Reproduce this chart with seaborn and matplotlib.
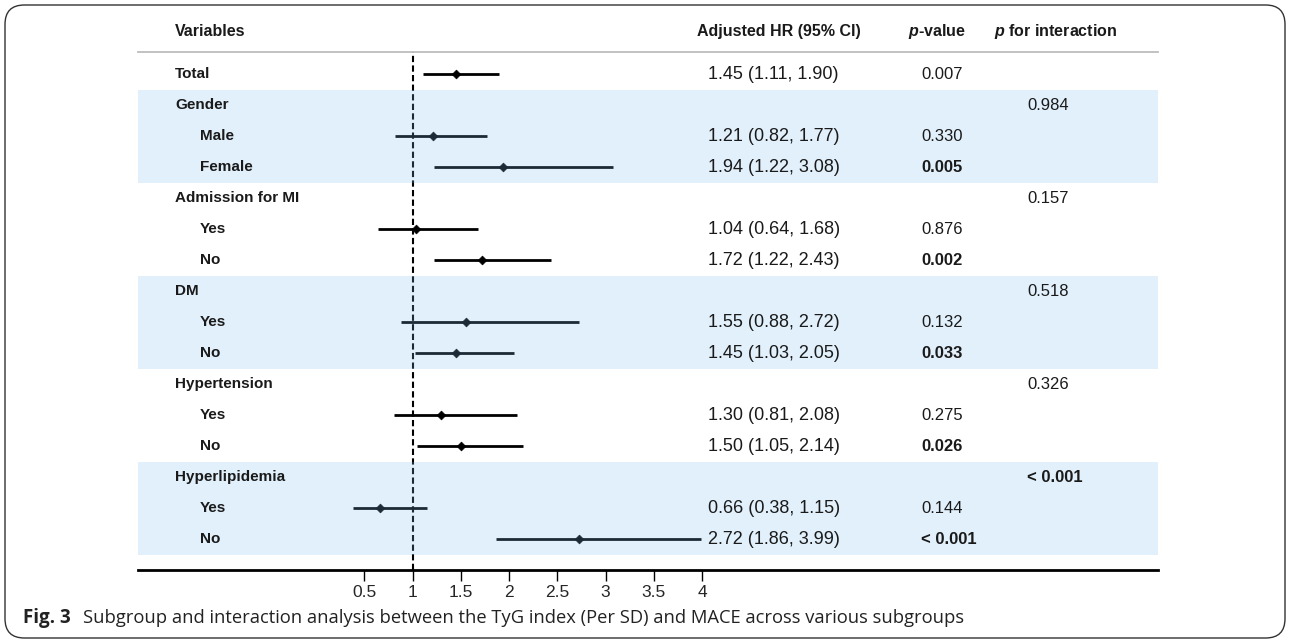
import numpy as np
import pandas as pd
import matplotlib
matplotlib.use("Agg")
import matplotlib.pyplot as plt
import matplotlib.transforms as mtransforms
from matplotlib.patches import FancyBboxPatch
import seaborn as sns

# ---- data ----
labels = ["Total", "Gender", "Male", "Female", "Admission for MI", "Yes", "No",
          "DM", "Yes", "No", "Hypertension", "Yes", "No", "Hyperlipidemia", "Yes", "No"]
is_sub = [False, False, True, True, False, True, True,
          False, True, True, False, True, True, False, True, True]
hr = [1.45, np.nan, 1.21, 1.94, np.nan, 1.04, 1.72, np.nan, 1.55, 1.45,
      np.nan, 1.30, 1.50, np.nan, 0.66, 2.72]
ci_low = [1.11, np.nan, 0.82, 1.22, np.nan, 0.64, 1.22, np.nan, 0.88, 1.03,
          np.nan, 0.81, 1.05, np.nan, 0.38, 1.86]
ci_high = [1.90, np.nan, 1.77, 3.08, np.nan, 1.68, 2.43, np.nan, 2.72, 2.05,
           np.nan, 2.08, 2.14, np.nan, 1.15, 3.99]
p_values = ["0.007", "", "0.330", "0.005", "", "0.876", "0.002", "", "0.132", "0.033",
            "", "0.275", "0.026", "", "0.144", "< 0.001"]
p_bold = [False, False, False, True, False, False, True, False, False, True,
          False, False, True, False, False, True]
p_interaction = ["", "0.984", "", "", "0.157", "", "", "0.518", "", "",
                 "0.326", "", "", "< 0.001", "", ""]
p_int_bold = [False, False, False, False, False, False, False, False, False, False,
              False, False, False, True, False, False]
shaded_groups = [(1, 3), (7, 9), (13, 15)]
x_ticks = [0.5, 1, 1.5, 2, 2.5, 3, 3.5, 4]
caption = "Subgroup and interaction analysis between the TyG index (Per SD) and MACE across various subgroups"

df = pd.DataFrame({"row": np.arange(len(labels)), "label": labels, "hr": hr,
                   "lo": ci_low, "hi": ci_high})

sns.set_theme(style="white")
plt.rcParams["font.family"] = ["Liberation Sans", "DejaVu Sans"]
plt.rcParams["mathtext.fontset"] = "custom"
plt.rcParams["mathtext.it"] = "Liberation Sans:italic:bold"
plt.rcParams["mathtext.rm"] = "Liberation Sans:bold"

fig = plt.figure(figsize=(12.9, 6.4), dpi=100)
ax = fig.add_axes([138 / 1290, 70 / 640, 1020 / 1290, 518 / 640])
ax.set_xlim(-1.845, 8.725)
ax.set_ylim(16.0, -0.71)

# CI lines and point estimates
ax.hlines(df["row"], df["lo"], df["hi"], color="black", lw=2.0, zorder=2)
sns.scatterplot(data=df, x="hr", y="row", marker="D", s=20, color="black",
                edgecolor="black", linewidth=0.5, ax=ax, zorder=3, legend=False)
ax.axvline(1, color="black", lw=1.5, ls=(0, (3, 1.6)), zorder=2)

# light blue bands laid over the marks
for a, b in shaded_groups:
    ax.axhspan(a - 0.5, b + 0.5, color="#7BBDEE", alpha=0.227, lw=0, zorder=4)

# spines / ticks
for s in ["left", "right"]:
    ax.spines[s].set_visible(False)
ax.spines["top"].set_color("#bdbdbd")
ax.spines["top"].set_linewidth(1.3)
ax.spines["bottom"].set_color("black")
ax.spines["bottom"].set_linewidth(2.0)
ax.set_xticks(x_ticks)
ax.set_xticklabels([f"{t:g}" for t in x_ticks])
ax.tick_params(axis="x", direction="out", length=8, width=1, color="black",
               labelsize=12.5, pad=3, bottom=True)
ax.set_yticks([])
ax.set_xlabel("")
ax.set_ylabel("")

trans = mtransforms.blended_transform_factory(ax.transAxes, ax.transData)
txt_col = "#1a1a1a"

# header
hy = -1.36
ax.text(0.0363, hy, "Variables", transform=trans, ha="left", va="center",
        fontsize=11.5, fontweight="bold", color=txt_col, clip_on=False)
ax.text(0.548, hy, "Adjusted HR (95% CI)", transform=trans, ha="left", va="center",
        fontsize=11.5, fontweight="bold", color=txt_col, clip_on=False)
ax.text(0.755, hy, "$p$-value", transform=trans, ha="left", va="center",
        fontsize=11.5, fontweight="bold", color=txt_col, clip_on=False)
ax.text(0.839, hy, "$p$ for interaction", transform=trans, ha="left", va="center",
        fontsize=11.5, fontweight="bold", color=txt_col, clip_on=False)

# table body
for i, lab in enumerate(labels):
    ax.text(0.0608 if is_sub[i] else 0.0363, i, lab, transform=trans, ha="left",
            va="center", fontsize=11, fontweight="bold", color=txt_col, zorder=5)
    if not np.isnan(hr[i]):
        ax.text(0.5588, i, f"{hr[i]:.2f} ({ci_low[i]:.2f}, {ci_high[i]:.2f})",
                transform=trans, ha="left", va="center", fontsize=13,
                color=txt_col, zorder=5)
    if p_values[i]:
        ax.text(0.7676, i, p_values[i], transform=trans, ha="left", va="center",
                fontsize=12, fontweight="bold" if p_bold[i] else "normal",
                color=txt_col, zorder=5)
    if p_interaction[i]:
        ax.text(0.8716, i, p_interaction[i], transform=trans, ha="left", va="center",
                fontsize=12, fontweight="bold" if p_int_bold[i] else "normal",
                color=txt_col, zorder=5)

# caption and frame
fig.text(23 / 1290, 1 - 618 / 640, "Fig. 3", ha="left", va="center", fontsize=13.5,
         fontweight="bold", family=["Open Sans", "DejaVu Sans"], color="#222222")
fig.text(83 / 1290, 1 - 618 / 640, caption, ha="left", va="center", fontsize=13.2,
         family=["Open Sans", "DejaVu Sans"], color="#222222")
frame = FancyBboxPatch((5 / 1290, 2 / 640), 1280 / 1290, 633 / 640,
                       boxstyle="round,pad=0,rounding_size=0.015",
                       transform=fig.transFigure, fill=False, ec="#333333", lw=1.0,
                       mutation_aspect=1290 / 640)
fig.patches.append(frame)

fig.savefig("out.png", dpi=100)
